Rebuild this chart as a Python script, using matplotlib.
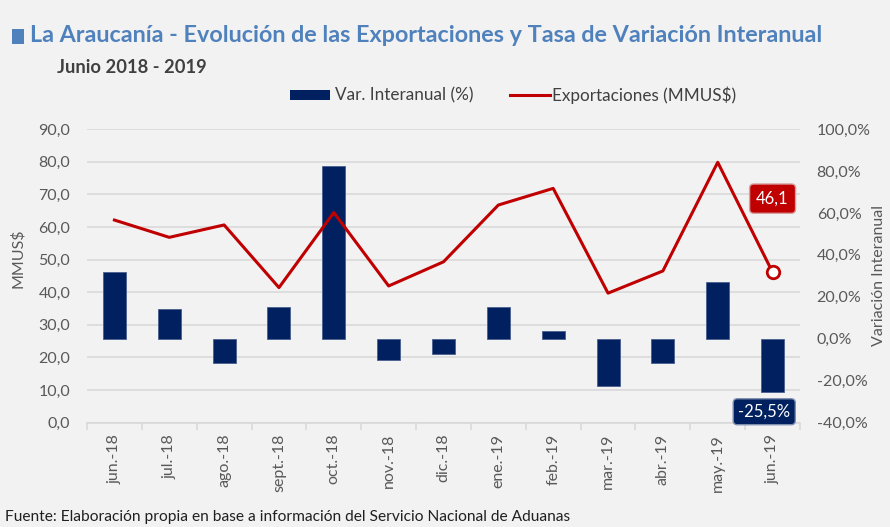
import matplotlib
matplotlib.use("Agg")
import matplotlib.pyplot as plt
from matplotlib.patches import Rectangle
from matplotlib.lines import Line2D
from matplotlib.ticker import FuncFormatter, MultipleLocator, FixedLocator

plt.rcParams['font.family'] = ['Lato', 'DejaVu Sans']

months = ["jun.-18", "jul.-18", "ago.-18", "sept.-18", "oct.-18", "nov.-18", "dic.-18",
          "ene.-19", "feb.-19", "mar.-19", "abr.-19", "may.-19", "jun.-19"]
exportaciones = [62.1, 56.8, 60.6, 41.4, 64.4, 41.9, 49.3, 66.7, 71.8, 39.7, 46.5, 79.8, 46.1]
var_interanual = [31.8, 14.1, -11.7, 15.3, 82.5, -10.1, -7.1, 15.3, 3.7, -22.5, -11.4, 26.9, -25.5]

NAVY = "#002060"
RED = "#C00000"
BG = "#F2F2F2"
GRID = "#D9D9D9"
TXT = "#595959"

fig = plt.figure(figsize=(8.9, 5.27), dpi=100, facecolor=BG)
ax = fig.add_axes([87/890, 1-422.7/527, (800-87)/890, (422.7-129)/527])
ax.set_facecolor(BG)
x = list(range(len(months)))

# left axis (exportaciones)
ax.set_ylim(0, 90)
ax.set_xlim(-0.5, len(months)-0.5)
ax.yaxis.set_major_locator(MultipleLocator(10))
ax.yaxis.set_major_formatter(FuncFormatter(lambda v, p: f"{v:.1f}".replace(".", ",")))
ax.grid(axis='y', color=GRID, linewidth=1.2)
ax.set_axisbelow(True)
for s in ["top", "right", "left"]:
    ax.spines[s].set_visible(False)
ax.spines["bottom"].set_color(GRID)
ax.spines["bottom"].set_linewidth(1.2)
ax.tick_params(axis='y', length=0, labelsize=11.5, labelcolor=TXT, pad=12)
ax.set_xticks(x)
ax.set_xticklabels(months, rotation=90, fontsize=11.5, color=TXT)
ax.tick_params(axis='x', which='major', length=0, pad=8)
ax.xaxis.set_minor_locator(FixedLocator([i - 0.5 for i in range(len(months)+1)]))
ax.tick_params(axis='x', which='minor', length=5, color=GRID, width=1.2)

# right axis (variacion)
ax2 = ax.twinx()
ax2.set_ylim(-40, 100)
ax2.yaxis.set_major_locator(MultipleLocator(20))
ax2.yaxis.set_major_formatter(FuncFormatter(lambda v, p: f"{v:.1f}%".replace(".", ",")))
for s in ["top", "right", "left", "bottom"]:
    ax2.spines[s].set_visible(False)
ax2.tick_params(axis='y', length=0, labelsize=11.5, labelcolor=TXT, pad=12)
ax2.bar(x, var_interanual, width=0.42, color=NAVY, edgecolor="#4a5f8f", linewidth=0.6, zorder=2)

# line drawn on top using left axis scale
ax2.plot(x, exportaciones, color=RED, linewidth=2.2, transform=ax.transData, zorder=3, clip_on=False)
ax2.plot([x[-1]], [exportaciones[-1]], marker='o', markersize=9, markerfacecolor='white',
         markeredgecolor=RED, markeredgewidth=2, transform=ax.transData, zorder=4, clip_on=False)

ax2.annotate(f"{exportaciones[-1]:.1f}".replace(".", ","), xy=(x[-1], exportaciones[-1]),
             xycoords=ax.transData, xytext=(0, 53), textcoords='offset points',
             ha='center', va='center', color='white', fontsize=12,
             bbox=dict(boxstyle='round,pad=0.4,rounding_size=0.25', fc=RED, ec='#d9a0a0', lw=1), zorder=5)
ax2.annotate(f"{var_interanual[-1]:.1f}%".replace(".", ","), xy=(x[-1], var_interanual[-1]),
             xytext=(-6, -14), textcoords='offset points',
             ha='center', va='center', color='white', fontsize=12,
             bbox=dict(boxstyle='round,pad=0.3,rounding_size=0.25', fc=NAVY, ec='#8090b0', lw=1), zorder=5,
             annotation_clip=False)

# labels
fig.text(18/890, 1-258/527, "MMUS$", rotation=90, ha='center', va='center', fontsize=11.5, color=TXT)
fig.text(879/890, 1-276/527, "Variación Interanual", rotation=90, ha='center', va='center', fontsize=11.5, color=TXT)

# title block
fig.patches.append(Rectangle((12/890, 1-44/527), 12/890, 15/527, transform=fig.transFigure,
                             facecolor="#4F81BD", edgecolor='none'))
fig.text(30/890, 1-36/527, "La Araucanía - Evolución de las Exportaciones y Tasa de Variación Interanual",
         ha='left', va='center', fontsize=16.8, fontweight='bold', color="#4F81BD")
fig.text(57/890, 1-67/527, "Junio 2018 - 2019", ha='left', va='center', fontsize=13.2,
         fontweight='bold', color="#404040")

# legend
fig.patches.append(Rectangle((290/890, 1-100/527), 40/890, 10/527, transform=fig.transFigure,
                             facecolor=NAVY, edgecolor='none'))
fig.text(335/890, 1-95/527, "Var. Interanual (%)", ha='left', va='center', fontsize=12.3, color="#404040")
fig.lines.append(Line2D([510/890, 550/890], [1-95/527, 1-95/527], transform=fig.transFigure,
                        color=RED, linewidth=2.2))
fig.text(552/890, 1-95/527, "Exportaciones (MMUS$)", ha='left', va='center', fontsize=12.3, color="#404040")

# footer
fig.text(5/890, 1-517/527, "Fuente: Elaboración propia en base a información del Servicio Nacional de Aduanas",
         ha='left', va='center', fontsize=11.2, color="#202020")

fig.savefig("out.png", dpi=100, facecolor=BG)
